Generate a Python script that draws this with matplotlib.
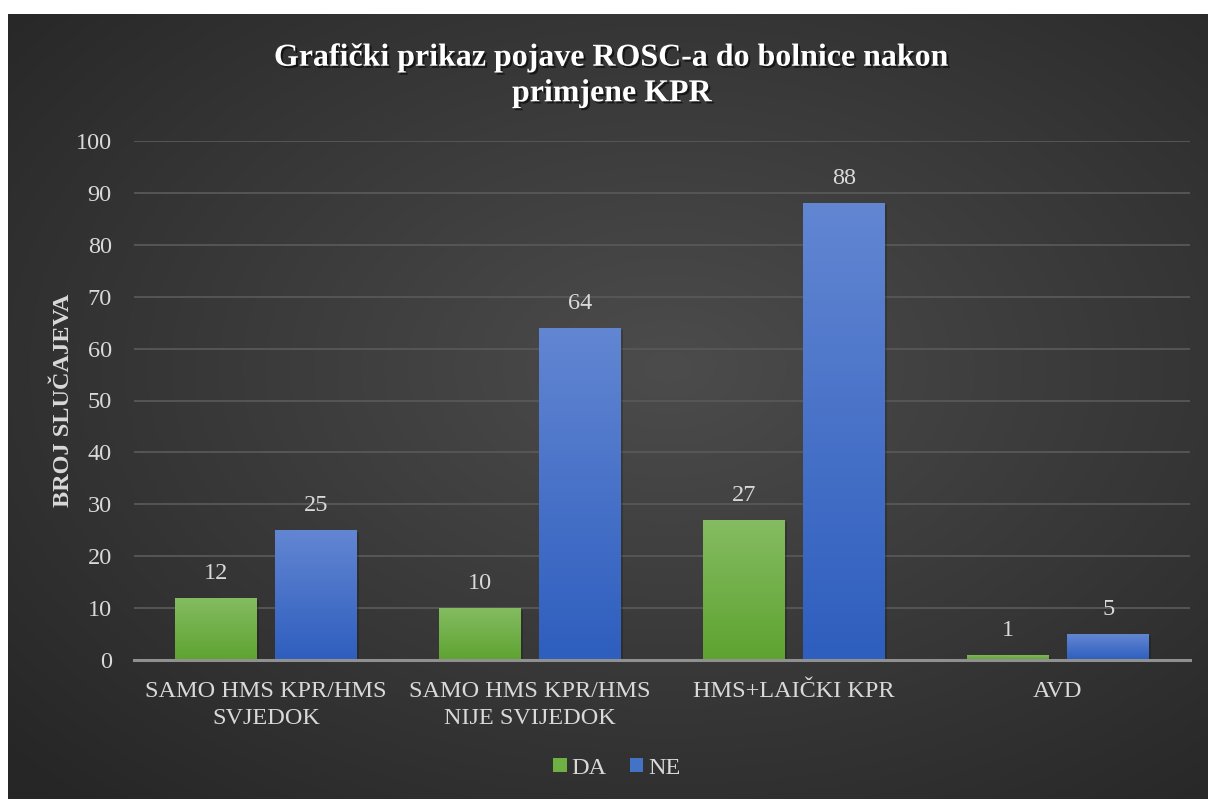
import numpy as np
import matplotlib
matplotlib.use("Agg")
import matplotlib.pyplot as plt
import matplotlib.patheffects as pe
from matplotlib.patches import Patch

categories = ["SAMO HMS KPR/HMS\nSVJEDOK", "SAMO HMS KPR/HMS\nNIJE SVIJEDOK", "HMS+LAIČKI KPR", "AVD"]
da_values = [12, 10, 27, 1]
ne_values = [25, 64, 88, 5]
series_names = ["DA", "NE"]
yticks = [0, 10, 20, 30, 40, 50, 60, 70, 80, 90, 100]
title = "Grafički prikaz pojave ROSC-a do bolnice nakon\nprimjene KPR"
ylabel = "BROJ SLUČAJEVA"

plt.rcParams['font.family'] = ['Liberation Serif', 'DejaVu Serif']

W, H = 1208, 799
fig = plt.figure(figsize=(W / 100, H / 100), dpi=100)
fig.patch.set_facecolor("white")

# background panel with radial gradient
bg = fig.add_axes([8 / W, 0, 1200 / W, 785 / H])
bg.set_axis_off()
yy, xx = np.mgrid[0:1:300j, 0:1:400j]
r = np.sqrt(((xx - 0.55) / 0.75) ** 2 + ((yy - 0.45) / 0.75) ** 2)
r = np.clip(r, 0, 1)
light = np.array([0x4c, 0x4c, 0x4c]) / 255
dark = np.array([0x26, 0x26, 0x26]) / 255
img = light[None, None, :] * (1 - r[..., None]) + dark[None, None, :] * r[..., None]
bg.imshow(img, extent=[0, 1, 0, 1], aspect="auto", origin="upper")
bg.set_xlim(0, 1)
bg.set_ylim(0, 1)

ax = fig.add_axes([134 / W, 139 / H, 1056 / W, 519 / H])
ax.set_facecolor("none")
ax.set_ylim(0, 100)
x = np.arange(len(categories))
ax.set_xlim(-0.5, len(categories) - 0.5)

bw = 0.31
off = 0.19
FS = 17.5

def grad_fill(bars, top, bottom):
    grad = np.linspace(0, 1, 256)[:, None]
    top = np.array(top) / 255
    bottom = np.array(bottom) / 255
    cmap_img = top[None, None, :] * (1 - grad[..., None]) + bottom[None, None, :] * grad[..., None]
    for b in bars:
        x0, y0 = b.get_x(), b.get_y()
        w, h = b.get_width(), b.get_height()
        im = ax.imshow(cmap_img, extent=[x0, x0 + w, y0, y0 + h], aspect="auto",
                       origin="upper", zorder=3)
        im.set_clip_path(b)

bars_da = ax.bar(x - off, da_values, bw, color="#6fb044", zorder=2, label=series_names[0])
bars_ne = ax.bar(x + off, ne_values, bw, color="#4472c4", zorder=2, label=series_names[1])
for b in list(bars_da) + list(bars_ne):
    b.set_path_effects([pe.SimplePatchShadow(offset=(1.5, -1.5), shadow_rgbFace="black", alpha=0.18), pe.Normal()])
grad_fill(bars_da, (0x85, 0xbc, 0x62), (0x5e, 0xa3, 0x30))
grad_fill(bars_ne, (0x62, 0x86, 0xd2), (0x2e, 0x5e, 0xbe))
for b in list(bars_da) + list(bars_ne):
    b.set_facecolor("none")

for bars, vals in ((bars_da, da_values), (bars_ne, ne_values)):
    for b, v in zip(bars, vals):
        ax.annotate(str(v), (b.get_x() + b.get_width() / 2, v), xytext=(0, 10),
                    textcoords="offset points", ha="center", va="bottom",
                    color="#d9d9d9", fontsize=FS, zorder=5)

ax.set_yticks(yticks)
ax.set_yticklabels([str(t) for t in yticks], color="#d9d9d9", fontsize=FS)
ax.set_xticks(x)
ax.set_xticklabels(categories, color="#d9d9d9", fontsize=FS, linespacing=1.4)
ax.tick_params(axis="both", length=0)
ax.tick_params(axis="y", pad=16)
ax.tick_params(axis="x", pad=15)
ax.grid(axis="y", color="#585858", linewidth=1.3, zorder=0)
ax.set_axisbelow(True)
for s in ["top", "right", "left"]:
    ax.spines[s].set_visible(False)
ax.spines["bottom"].set_color("#909090")
ax.spines["bottom"].set_linewidth(2.2)
ax.spines["bottom"].set_zorder(4)

ax.set_ylabel(ylabel, color="#d9d9d9", fontsize=FS, fontweight="bold")
ax.yaxis.set_label_coords(-0.057, 0.5)

fig.text(612 / W, 1 - 76 / H, title, ha="center", va="center", color="white",
         fontsize=23, fontweight="bold", linespacing=1.3,
         path_effects=[pe.withSimplePatchShadow(offset=(1.5, -1.5), shadow_rgbFace="black", alpha=0.6)])

handles = [Patch(facecolor="#6fb044", edgecolor="none"), Patch(facecolor="#4472c4", edgecolor="none")]
leg = fig.legend(handles, series_names, loc="center", bbox_to_anchor=(617 / W, 1 - 768 / H),
                 ncol=2, frameon=False, fontsize=FS, handlelength=0.55, handleheight=0.55,
                 handletextpad=0.2, columnspacing=0.95)
for t in leg.get_texts():
    t.set_color("#d9d9d9")

fig.savefig("out.png", dpi=100, facecolor=fig.get_facecolor())
